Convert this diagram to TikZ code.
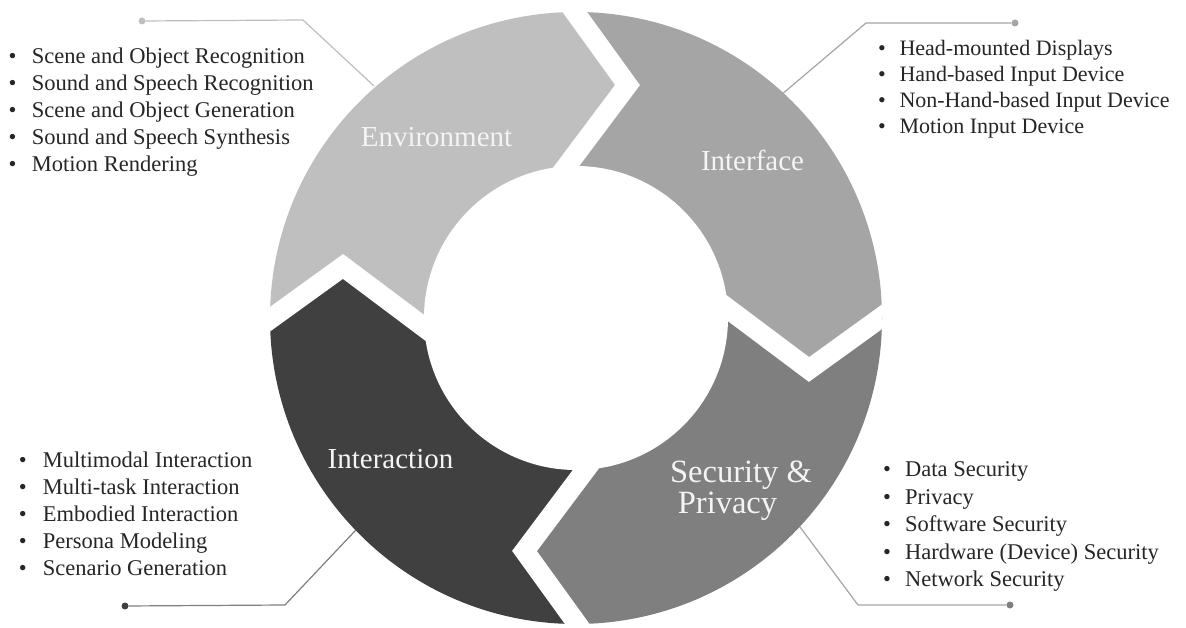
\documentclass[tikz,border=0pt]{standalone}
\usepackage{fontspec}
\setmainfont{Liberation Serif}
\definecolor{cenv}{HTML}{BFBFBF}
\definecolor{cifc}{HTML}{A5A5A5}
\definecolor{csec}{HTML}{7F7F7F}
\definecolor{cint}{HTML}{404040}
\definecolor{ctxt}{HTML}{262626}
\definecolor{clab}{HTML}{F4F4F4}
\tikzset{
  listitem/.style={anchor=base west, inner sep=0pt, text=ctxt, font=\fontsize{22.5}{27}\selectfont},
  seglabel/.style={anchor=base, inner sep=0pt, text=clab, font=\fontsize{29}{34}\selectfont},
  biglabel/.style={seglabel, font=\fontsize{32.5}{36}\selectfont},
  leader/.style={line width=1.2pt},
  leaderdot/.style={circle, inner sep=0pt, minimum size=7pt},
  gapline/.style={white, line width=20pt, line join=miter},
}
\newcommand{\bul}[2]{\makebox[#1][l]{\textbullet}#2}
\begin{document}
\begin{tikzpicture}[x=1pt,y=1pt]
\useasboundingbox (0,0) rectangle (1186,627);
\fill[white] (0,0) rectangle (1186,627);
\coordinate (C) at (576,309);
\foreach \k/\rot in {1/0,2/-90,3/-180,4/90}{
  \begin{scope}[shift={(576,309)},rotate=\rot]
    \coordinate (gi\k) at (-38.5,113);
    \coordinate (ga\k) at (51.5,233);
    \coordinate (go\k) at (-94.9,435.7);
    \coordinate (gf\k) at (435.7,670.9);
  \end{scope}
}
% ring segments
\begin{scope}
  \clip (C) circle[radius=306];
  \fill[cifc] (C) -- (gi1) -- (ga1) -- (go1) -- (gf1) -- (go2) -- (ga2) -- (gi2) -- cycle;
  \fill[csec] (C) -- (gi2) -- (ga2) -- (go2) -- (gf2) -- (go3) -- (ga3) -- (gi3) -- cycle;
  \fill[cint] (C) -- (gi3) -- (ga3) -- (go3) -- (gf3) -- (go4) -- (ga4) -- (gi4) -- cycle;
  \fill[cenv] (C) -- (gi4) -- (ga4) -- (go4) -- (gf4) -- (go1) -- (ga1) -- (gi1) -- cycle;
  \foreach \k in {1,...,4}{\draw[gapline] (gi\k) -- (ga\k) -- (go\k);}
\end{scope}
\fill[white] (C) circle[radius=152];

% segment labels
\node[seglabel] (lenv) at (436.5,480) {Environment};
\node[seglabel] (lifc) at (752.5,456.3) {Interface};
\node[seglabel] (lint) at (390.5,158.7) {Interaction};
\node[biglabel] (lsec1) at (741,144.3) {Security \&};
\node[biglabel] (lsec2) at (727.5,113.7) {Privacy};

% leader lines
\coordinate (eenv) at (374,541);
\coordinate (benv) at (303,607);
\node[leaderdot, fill=cenv] (denv) at (142,606) {};
\draw[leader, cenv] (denv) -- (benv) -- (eenv);

\coordinate (eifc) at (783.4,534);
\coordinate (bifc) at (866,604);
\node[leaderdot, fill=cifc] (difc) at (1015,604) {};
\draw[leader, cifc] (difc) -- (bifc) -- (eifc);

\coordinate (eint) at (355.6,96.7);
\coordinate (bint) at (285,22);
\node[leaderdot, fill=cint] (dint) at (125,21) {};
\draw[leader, csec] (dint) -- (bint) -- (eint);

\coordinate (esec) at (799.8,100.3);
\coordinate (bsec) at (858,22);
\node[leaderdot, fill=csec] (dsec) at (1010,22) {};
\draw[leader, cifc] (dsec) -- (bsec) -- (esec);

% lists
\foreach \y/\t [count=\i] in {563.5/Scene and Object Recognition, 536.5/Sound and Speech Recognition, 509.5/Scene and Object Generation, 482.5/Sound and Speech Synthesis, 455.5/Motion Rendering}
  \node[listitem] (env\i) at (8.4,\y) {\bul{23.3pt}{\t}};
\foreach \y/\t [count=\i] in {571.5/Head-mounted Displays, 545.5/Hand-based Input Device, 519.5/Non-Hand-based Input Device, 493.5/Motion Input Device}
  \node[listitem, font=\fontsize{22}{26}\selectfont] (ifc\i) at (877.8,\y) {\bul{21.5pt}{\t}};
\foreach \y/\t [count=\i] in {159.5/Multimodal Interaction, 132.5/Multi-task Interaction, 105.5/Embodied Interaction, 78.5/Persona Modeling, 51.5/Scenario Generation}
  \node[listitem] (int\i) at (18.8,\y) {\bul{23.9pt}{\t}};
\foreach \y/\t [count=\i] in {150/Data Security, 123/Privacy, 95.5/Software Security, 68/Hardware (Device) Security, 41/Network Security}
  \node[listitem] (sec\i) at (882.8,\y) {\bul{22.2pt}{\t}};
\end{tikzpicture}
\end{document}
